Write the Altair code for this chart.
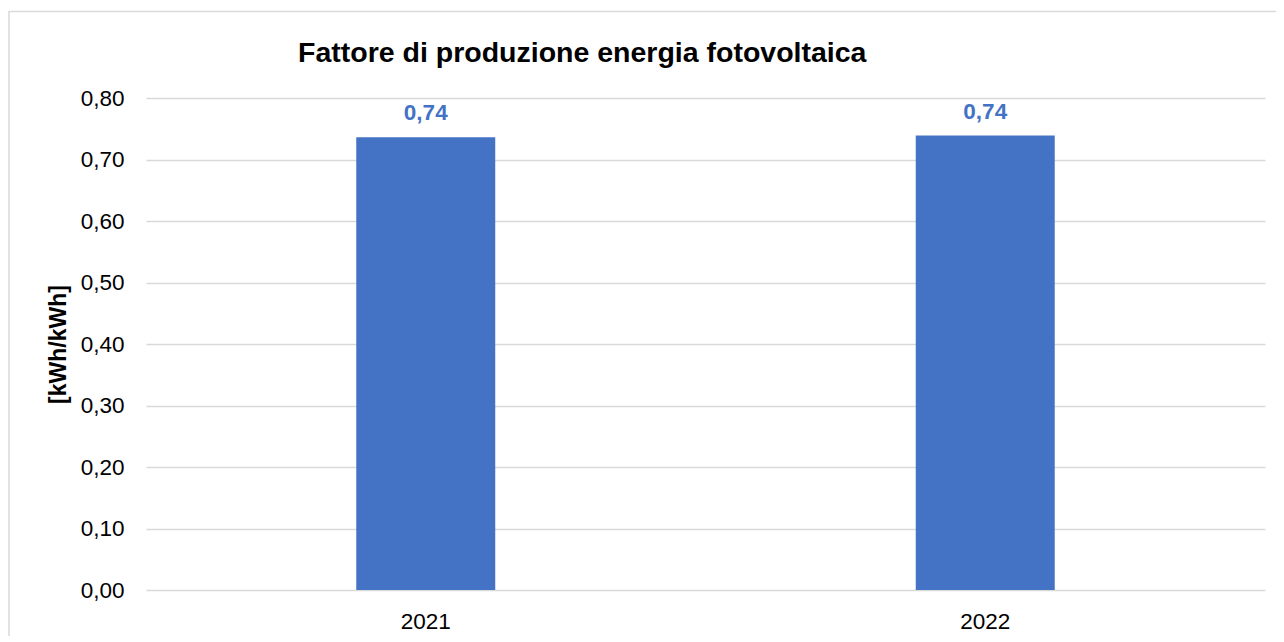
import altair as alt
import pandas as pd

years = ["2021", "2022"]
values = [0.736, 0.739]
y_ticks = [0.0, 0.1, 0.2, 0.3, 0.4, 0.5, 0.6, 0.7, 0.8]
title_text = "Fattore di produzione energia fotovoltaica"
y_title = "[kWh/kWh]"

FONT = "Liberation Sans"
BLUE = "#4472C4"
GRID = "#d9d9d9"

df = pd.DataFrame({"year": years, "value": values})

W, H = 1119, 492

base = alt.Chart(df).transform_calculate(
    label="replace(format(datum.value, '.2f'), '.', ',')"
)

x_enc = alt.X(
    "year:N",
    sort=years,
    scale=alt.Scale(paddingInner=0.7516, paddingOuter=0.3758),
    axis=alt.Axis(
        title=None, labelAngle=0, domain=False, ticks=False,
        labelFont=FONT, labelFontSize=22.5, labelColor="#000000",
        labelPadding=20, grid=False,
    ),
)
y_enc = alt.Y(
    "value:Q",
    scale=alt.Scale(domain=[0, 0.8], nice=False, zero=True),
    axis=alt.Axis(
        values=y_ticks,
        labelExpr="replace(format(datum.value, '.2f'), '.', ',')",
        domain=False, ticks=False,
        grid=True, gridColor=GRID, gridWidth=1.3,
        labelFont=FONT, labelFontSize=22.5, labelColor="#000000",
        labelPadding=22,
        title=y_title, titleFont=FONT, titleFontSize=23, titleFontWeight="bold",
        titleColor="#000000", titleAngle=-90, titleX=-81, titleY=H / 2,
        titleAlign="center", titleBaseline="alphabetic",
    ),
)

bars = base.mark_bar(color=BLUE).encode(x=x_enc, y=y_enc)

labels = base.mark_text(
    font=FONT, fontSize=22.5, fontWeight="bold", color=BLUE,
    baseline="alphabetic", align="center", dy=-17,
).encode(x=alt.X("year:N", sort=years), y="value:Q", text="label:N")

title = alt.Chart(alt.Data(values=[{"t": title_text}])).mark_text(
    font=FONT, fontSize=28.5, fontWeight="bold", color="#000000",
    align="left", baseline="alphabetic",
).encode(x=alt.value(152), y=alt.value(-36), text="t:N")

border = alt.Chart(alt.Data(values=[{}])).mark_rect(
    fillOpacity=0, stroke=GRID, strokeWidth=1.5,
).encode(x=alt.value(-137), x2=alt.value(1300), y=alt.value(-86.5), y2=alt.value(700))

chart = alt.layer(border, bars, labels, title).properties(
    width=W, height=H,
    autosize=alt.AutoSizeParams(type="none"),
    padding={"left": 138, "top": 90, "right": 11, "bottom": 46},
).configure_view(stroke=None)

chart.save("out.html", embed_options={"renderer": "svg", "actions": False})
